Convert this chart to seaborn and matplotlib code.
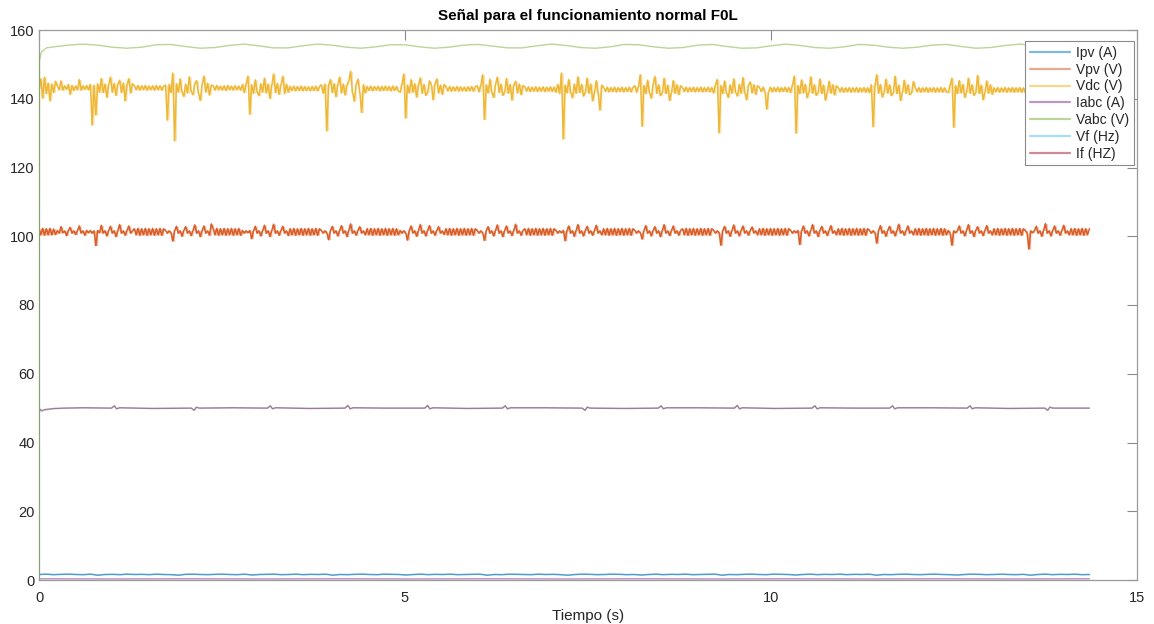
import numpy as np
import matplotlib
matplotlib.use("Agg")
import matplotlib.pyplot as plt
from matplotlib.lines import Line2D
import seaborn as sns

# ---------------------------------------------------------------- data
T_END = 14.35  # length of the recording (s)

series_names = ["Ipv (A)", "Vpv (V)", "Vdc (V)", "Iabc (A)", "Vabc (V)", "Vf (Hz)", "If (HZ)"]

# DC-link voltage, sampled every ~0.025 s (one row per operating stretch)
vdc = [
    143.0, 145.8, 140.2, 146.3, 141.5, 144.6, 139.4, 144.3, 141.8, 145.1,
    143.8, 142.6, 145.2, 142.5, 143.8, 142.7, 144.2, 141.3, 143.9, 142.4, 143.8, 142.6, 145.6, 142.5, 143.8, 142.7, 143.9, 142.6,
    144.2, 132.4, 144.0, 135.3, 144.4, 141.9, 145.9, 141.8, 144.3, 140.4, 144.2, 146.3, 141.9, 144.5, 141.0, 144.2, 145.4, 141.8, 144.6, 139.4, 144.1, 145.9, 141.7, 144.4,
    143.8, 142.6, 143.9, 142.5, 143.8, 142.6, 143.9, 142.5, 143.7, 142.6, 143.8, 142.5, 143.9, 142.6, 143.8, 142.5, 143.7,
    144.0, 133.8, 144.2, 141.8, 147.5, 127.8, 144.4, 141.9, 145.8, 142.0, 140.7, 144.3, 141.7, 146.4, 142.1, 141.2, 144.4, 145.3, 141.6, 139.5, 144.3, 146.6, 141.9, 144.5, 141.1, 144.0,
    143.8, 142.5, 143.9, 142.6, 143.7, 142.5, 143.8, 142.4, 143.9, 142.6, 143.7, 142.5, 143.8, 142.6, 143.7, 142.5,
    144.2, 141.8, 144.4, 146.6, 135.5, 144.1, 141.6, 145.5, 142.0, 140.9, 144.4, 141.9, 146.0, 141.7, 144.3, 140.1, 144.0, 147.2, 141.8, 144.5, 141.3, 144.1, 146.6, 141.6, 144.3, 141.9,
    143.6, 142.4, 143.7, 142.3, 143.6, 142.4, 143.7, 142.3, 143.6, 142.4, 143.5, 142.3, 143.6, 142.4, 143.7, 142.3, 143.6,
    144.1, 141.6, 144.3, 130.7, 144.0, 145.6, 141.8, 144.4, 140.6, 144.1, 146.3, 141.7, 144.3, 141.1, 144.0, 145.2, 148.0, 141.9, 139.3, 144.2, 145.7, 141.8, 136.0, 144.1, 141.7,
    143.6, 142.4, 143.7, 142.3, 143.6, 142.5, 143.7, 142.3, 143.6, 142.4, 143.7, 142.4, 143.6, 142.3, 143.7, 142.4, 143.6, 142.3,
    141.9, 144.3, 147.2, 134.4, 144.0, 141.7, 145.6, 141.9, 144.4, 140.5, 144.0, 146.1, 141.6, 144.2, 141.0, 141.9, 145.2, 144.1, 139.7, 144.3, 145.8, 141.7, 144.0, 141.3, 144.2,
    143.5, 142.3, 143.6, 142.2, 143.5, 142.3, 143.6, 142.2, 143.5, 142.3, 143.4, 142.2, 143.5, 142.3, 143.6, 142.2, 143.5,
    143.8, 142.0, 143.9, 147.0, 134.0, 144.1, 141.7, 145.7, 141.9, 140.4, 144.2, 146.3, 141.8, 144.3, 141.0, 141.9, 145.9, 141.6, 144.2, 139.6, 144.0, 145.1, 141.7, 144.3, 141.2, 143.9,
    143.4, 142.2, 143.5, 142.1, 143.4, 142.2, 143.5, 142.1, 143.4, 142.2, 143.5, 142.1, 143.4, 142.2, 143.5, 142.1, 143.4,
    141.9, 144.2, 141.6, 147.5, 128.3, 144.0, 141.7, 145.6, 141.9, 140.3, 144.3, 141.6, 146.4, 141.8, 144.2, 140.8, 141.9, 146.0, 141.6, 144.3, 139.4, 141.9, 145.3, 141.7, 136.7, 144.0,
    143.3, 142.1, 143.4, 142.0, 143.3, 142.1, 143.4, 142.0, 143.3, 142.1, 143.4, 142.0, 143.3, 142.1, 143.4, 142.0, 143.3,
    143.8, 141.9, 143.6, 147.0, 132.0, 143.9, 141.5, 145.4, 141.8, 140.2, 144.2, 146.5, 141.6, 144.1, 140.9, 141.8, 146.0, 141.5, 144.0, 139.5, 141.8, 145.3, 141.6, 144.1, 141.2, 143.8,
    143.3, 142.1, 143.4, 142.0, 143.3, 142.1, 143.4, 142.0, 143.3, 142.1, 143.4, 142.0, 143.3, 142.1, 143.4, 142.0, 143.3,
    141.7, 144.1, 145.6, 130.1, 143.9, 141.5, 145.2, 141.8, 140.4, 144.1, 141.6, 145.8, 141.9, 140.8, 144.2, 141.6, 146.2, 141.8, 139.7, 144.0, 144.9, 141.7, 144.1, 141.3, 143.8,
    143.3, 142.1, 143.4, 142.0, 137.0, 142.1, 143.4, 142.0, 143.3, 142.1, 143.4, 142.0, 143.3, 142.1, 143.4, 142.0, 143.3,
    141.8, 144.1, 146.6, 130.0, 143.9, 141.5, 145.5, 141.7, 144.2, 140.3, 141.9, 146.4, 141.6, 144.1, 141.0, 141.8, 145.8, 141.5, 144.0, 139.6, 141.9, 145.1, 141.6, 144.1, 141.1, 143.8,
    143.2, 142.0, 143.3, 141.9, 143.2, 142.0, 143.3, 141.9, 143.2, 142.0, 143.3, 141.9, 143.2, 142.0, 143.3, 141.9, 143.2,
    141.8, 144.1, 131.9, 143.9, 147.0, 141.6, 144.2, 140.5, 141.9, 145.7, 141.6, 144.1, 140.9, 141.8, 146.6, 141.5, 144.0, 139.5, 141.9, 145.4, 141.6, 144.1, 141.2, 141.8, 145.0,
    143.2, 142.0, 143.3, 141.9, 143.2, 142.0, 143.3, 141.9, 143.2, 142.0, 143.3, 141.9, 143.2, 142.0, 143.3, 141.9, 143.2, 142.0,
    141.8, 144.1, 146.0, 131.7, 143.9, 141.5, 145.3, 141.7, 144.2, 140.4, 141.9, 146.0, 141.6, 144.1, 141.0, 141.8, 146.8, 141.5, 144.0, 139.7, 141.9, 145.2, 141.6, 144.1, 141.3,
    143.2, 142.0, 143.3, 141.9, 143.2, 142.0, 143.3, 141.9, 143.2, 142.0, 143.3, 141.9, 143.2, 142.0, 143.3, 141.9, 143.2,
    141.8, 144.1, 146.5, 133.0, 143.9, 141.5, 145.4, 141.7, 144.2, 140.4, 141.9, 146.3, 141.6, 144.1, 141.0, 141.8, 145.7, 141.5, 144.0, 139.6, 141.9, 145.1, 141.6, 144.1, 141.2,
    143.2, 142.0, 143.3, 141.9, 143.2, 142.0, 143.3, 141.9, 143.2, 142.0, 143.2,
]

# PV voltage, sampled every ~0.025 s (one row per operating stretch)
vpv = [
    102.2, 100.4, 102.3, 100.3, 102.2, 100.4, 102.3, 100.4, 102.1, 100.5,
    101.7, 100.9, 102.8, 101.0, 101.6, 100.2, 101.7, 102.6, 100.9, 101.6, 100.5, 101.7, 103.0, 100.9, 101.6, 100.3, 101.7, 101.0,
    101.7, 100.9, 101.6, 97.3, 101.7, 101.0, 103.2, 100.9, 101.6, 100.1, 101.7, 102.9, 100.9, 101.6, 99.9, 101.7, 103.4, 100.9, 101.6, 100.3, 101.7, 103.0, 100.9, 101.6,
    102.2, 100.4, 102.3, 100.3, 102.2, 100.4, 102.3, 100.3, 102.2, 100.4, 102.3, 100.3, 102.2, 100.4, 102.3, 100.3, 102.2,
    101.7, 100.9, 101.6, 101.0, 98.6, 101.7, 102.9, 100.9, 101.6, 100.0, 101.7, 102.8, 100.9, 101.6, 100.2, 101.7, 103.3, 100.9, 101.6, 99.9, 101.7, 103.0, 100.9, 101.6, 100.3, 103.6,
    102.2, 100.4, 102.3, 100.3, 102.2, 100.4, 102.3, 100.3, 102.2, 100.4, 102.3, 100.3, 102.2, 100.4, 102.3, 100.3,
    101.7, 100.9, 101.6, 101.0, 101.7, 99.3, 101.6, 102.9, 100.9, 101.6, 100.1, 101.7, 103.2, 100.9, 101.6, 99.9, 101.7, 103.5, 100.9, 101.6, 100.3, 101.7, 102.9, 100.9, 101.6, 100.2,
    102.2, 100.4, 102.3, 100.3, 102.2, 100.4, 102.3, 100.3, 102.2, 100.4, 102.3, 100.3, 102.2, 100.4, 102.3, 100.3, 102.2,
    101.7, 100.9, 101.6, 101.0, 99.0, 101.7, 102.9, 100.9, 101.6, 100.1, 101.7, 103.1, 100.9, 101.6, 99.9, 101.7, 103.6, 100.9, 101.6, 100.3, 101.7, 102.8, 100.9, 101.6, 100.4,
    102.2, 100.4, 102.3, 100.3, 102.2, 100.4, 102.3, 100.3, 102.2, 100.4, 102.3, 100.3, 102.2, 100.4, 102.3, 100.3, 102.2, 100.4,
    101.7, 100.9, 101.6, 101.0, 98.9, 101.7, 103.0, 100.9, 101.6, 100.0, 101.7, 103.4, 100.9, 101.6, 100.1, 101.7, 103.1, 100.9, 101.6, 100.3, 101.7, 102.8, 100.9, 101.6, 100.5,
    102.2, 100.4, 102.3, 100.3, 102.2, 100.4, 102.3, 100.3, 102.2, 100.4, 102.3, 100.3, 102.2, 100.4, 102.3, 100.3, 102.2,
    101.7, 100.9, 101.6, 101.0, 98.8, 101.7, 102.8, 100.9, 101.6, 100.1, 101.7, 103.3, 100.9, 101.6, 99.9, 101.7, 103.0, 100.9, 101.6, 100.2, 101.7, 103.5, 100.9, 101.6, 100.3, 101.7,
    102.2, 100.4, 102.3, 100.3, 102.2, 100.4, 102.3, 100.3, 102.2, 100.4, 102.3, 100.3, 102.2, 100.4, 102.3, 100.3, 102.2,
    101.7, 100.9, 101.6, 101.0, 101.7, 98.7, 101.6, 103.0, 100.9, 101.6, 100.0, 101.7, 103.4, 100.9, 101.6, 100.1, 101.7, 102.9, 100.9, 101.6, 100.3, 101.7, 103.2, 100.9, 101.6, 100.4,
    102.2, 100.4, 102.3, 100.3, 102.2, 100.4, 102.3, 100.3, 102.2, 100.4, 102.3, 100.3, 102.2, 100.4, 102.3, 100.3, 102.2,
    101.7, 100.9, 101.6, 101.0, 99.2, 101.7, 103.1, 100.9, 101.6, 100.1, 101.7, 102.8, 100.9, 101.6, 99.9, 101.7, 103.4, 100.9, 101.6, 100.2, 101.7, 103.0, 100.9, 101.6, 100.3, 101.7,
    102.2, 100.4, 102.3, 100.3, 102.2, 100.4, 102.3, 100.3, 102.2, 100.4, 102.3, 100.3, 102.2, 100.4, 102.3, 100.3, 102.2,
    101.7, 100.9, 101.6, 101.0, 97.4, 101.7, 102.9, 100.9, 101.6, 100.0, 101.7, 103.3, 100.9, 101.6, 100.1, 101.7, 103.0, 100.9, 101.6, 100.3, 101.7, 102.7, 100.9, 101.6, 100.4,
    102.2, 100.4, 102.3, 100.3, 102.2, 100.4, 102.3, 100.3, 102.2, 100.4, 102.3, 100.3, 102.2, 100.4, 102.3, 100.3, 102.2,
    101.7, 100.9, 101.6, 101.0, 101.7, 97.6, 101.6, 103.0, 100.9, 101.6, 100.1, 101.7, 103.4, 100.9, 101.6, 99.9, 101.7, 102.9, 100.9, 101.6, 100.2, 101.7, 103.1, 100.9, 101.6, 100.4,
    102.2, 100.4, 102.3, 100.3, 102.2, 100.4, 102.3, 100.3, 102.2, 100.4, 102.3, 100.3, 102.2, 100.4, 102.3, 100.3, 102.2,
    101.7, 100.9, 101.6, 101.0, 98.0, 101.7, 103.1, 100.9, 101.6, 100.0, 101.7, 102.9, 100.9, 101.6, 100.1, 101.7, 103.5, 100.9, 101.6, 100.3, 101.7, 103.0, 100.9, 101.6, 100.4,
    102.2, 100.4, 102.3, 100.3, 102.2, 100.4, 102.3, 100.3, 102.2, 100.4, 102.3, 100.3, 102.2, 100.4, 102.3, 100.3, 102.2, 100.4,
    101.7, 100.9, 97.4, 101.6, 101.0, 101.7, 103.0, 100.9, 101.6, 100.1, 101.7, 103.4, 100.9, 101.6, 99.9, 101.7, 102.8, 100.9, 101.6, 100.2, 101.7, 103.1, 100.9, 101.6, 100.4,
    102.2, 100.4, 102.3, 100.3, 102.2, 100.4, 102.3, 100.3, 102.2, 100.4, 102.3, 100.3, 102.2, 100.4, 102.3, 100.3, 102.2,
    101.7, 100.9, 96.3, 101.6, 101.0, 101.7, 102.9, 100.9, 101.6, 100.0, 101.7, 103.7, 100.9, 101.6, 100.1, 101.7, 103.0, 100.9, 101.6, 100.3, 101.7, 103.2, 100.9, 101.6, 100.4,
    102.2, 100.4, 102.3, 100.3, 102.2, 100.4, 102.3, 100.3, 102.2, 100.4, 102.2,
]

# AC voltage: start-up transient, then samples every 0.2 s from 0.2 s
vabc_head_t = [0.0, 0.006, 0.03, 0.1]
vabc_head_v = [0.0, 151.0, 153.5, 154.8]
vabc = [
    155.1, 155.6, 155.9, 155.6, 155.0, 154.7, 155.0, 155.7, 155.8, 155.2,
    154.7, 154.9, 155.5, 155.9, 155.4, 154.8, 154.8, 155.4, 155.9, 155.6,
    155.0, 154.7, 155.1, 155.7, 155.7, 155.1, 154.7, 155.0, 155.6, 155.8,
    155.3, 154.8, 154.8, 155.4, 155.9, 155.5, 154.9, 154.7, 155.1, 155.8,
    155.7, 155.1, 154.7, 154.9, 155.6, 155.8, 155.2, 154.7, 154.8, 155.4,
    155.9, 155.5, 154.9, 154.7, 155.1, 155.8, 155.6, 155.0, 154.7, 155.0,
    155.6, 155.8, 155.2, 154.7, 154.9, 155.5, 155.9, 155.4, 154.8, 154.8,
    155.4,
]

# frequency signals (shared time stamps)
freq_t = [0.00, 0.03, 0.08, 0.20, 0.35, 0.60,
          0.99, 1.03, 1.06, 1.10, 1.55,
          2.08, 2.12, 2.15, 2.19, 2.65,
          3.12, 3.16, 3.19, 3.23, 3.70,
          4.18, 4.22, 4.25, 4.29, 4.75,
          5.27, 5.31, 5.34, 5.38, 5.85,
          6.33, 6.37, 6.40, 6.44, 6.90,
          7.42, 7.46, 7.49, 7.53, 8.00,
          8.46, 8.50, 8.53, 8.57, 9.00,
          9.50, 9.54, 9.57, 9.61, 10.05,
          10.56, 10.60, 10.63, 10.67, 11.15,
          11.62, 11.66, 11.69, 11.73, 12.20,
          12.68, 12.72, 12.75, 12.79, 13.25,
          13.74, 13.78, 13.81, 13.85, 14.35]
if_v = [50.0, 49.3, 49.6, 49.9, 50.0, 50.1,
        50.0, 50.7, 49.8, 50.1, 49.9,
        50.0, 49.4, 50.3, 50.0, 50.1,
        50.0, 50.7, 49.8, 50.1, 49.9,
        50.0, 50.8, 49.8, 50.1, 50.0,
        50.0, 50.8, 49.8, 50.1, 49.9,
        50.0, 50.7, 49.8, 50.1, 50.1,
        50.0, 49.4, 50.3, 50.0, 49.9,
        50.0, 50.7, 49.8, 50.1, 50.1,
        50.0, 50.8, 49.8, 50.1, 49.9,
        50.0, 50.7, 49.8, 50.1, 50.0,
        50.0, 50.7, 49.8, 50.1, 50.1,
        50.0, 50.7, 49.8, 50.1, 49.9,
        50.0, 49.4, 50.3, 50.0, 50.0]
vf_v = [50.0, 49.0, 49.4, 49.8, 50.0, 50.1,
        50.0, 50.6, 49.8, 50.1, 49.9,
        50.0, 49.3, 50.2, 50.0, 50.1,
        50.0, 50.6, 49.8, 50.1, 49.9,
        50.0, 50.7, 49.8, 50.1, 50.0,
        50.0, 50.7, 49.8, 50.1, 49.9,
        50.0, 50.6, 49.8, 50.1, 50.1,
        50.0, 49.3, 50.2, 50.0, 49.9,
        50.0, 50.6, 49.8, 50.1, 50.1,
        50.0, 50.7, 49.8, 50.1, 49.9,
        50.0, 50.6, 49.8, 50.1, 50.0,
        50.0, 50.6, 49.8, 50.1, 50.1,
        50.0, 50.6, 49.8, 50.1, 49.9,
        50.0, 49.3, 50.2, 50.0, 50.0]

# PV current, sampled every ~0.1 s
ipv = [
    1.6, 1.7, 1.55, 1.65, 1.7, 1.6, 1.55, 1.7, 1.4, 1.6, 1.65, 1.55,
    1.7, 1.6, 1.65, 1.55, 1.7, 1.6, 1.55, 1.4, 1.65, 1.7, 1.6, 1.55,
    1.65, 1.7, 1.6, 1.55, 1.7, 1.45, 1.6, 1.65, 1.7, 1.55, 1.6, 1.7,
    1.55, 1.65, 1.6, 1.7, 1.4, 1.6, 1.55, 1.65, 1.7, 1.6, 1.55, 1.7,
    1.65, 1.6, 1.45, 1.6, 1.7, 1.55, 1.65, 1.6, 1.7, 1.55, 1.6, 1.65,
    1.7, 1.4, 1.6, 1.55, 1.7, 1.65, 1.6, 1.55, 1.7, 1.6, 1.65, 1.55,
    1.4, 1.6, 1.7, 1.65, 1.55, 1.6, 1.7, 1.65, 1.55, 1.6, 1.45, 1.6,
    1.7, 1.55, 1.65, 1.6, 1.7, 1.55, 1.6, 1.65, 1.7, 1.4, 1.6, 1.55,
    1.65, 1.7, 1.6, 1.55, 1.7, 1.65, 1.6, 1.45, 1.6, 1.7, 1.55, 1.65,
    1.6, 1.7, 1.55, 1.65, 1.6, 1.7, 1.4, 1.6, 1.55, 1.65, 1.7, 1.6,
    1.55, 1.65, 1.7, 1.6, 1.55, 1.45, 1.6, 1.7, 1.65, 1.55, 1.6, 1.7,
    1.6, 1.55, 1.65, 1.4, 1.6, 1.7, 1.55, 1.65, 1.6, 1.7, 1.55, 1.6,
]

# AC current, one sample per second
iabc = [0.35, 0.3, 0.35, 0.3, 0.35, 0.3, 0.35, 0.3, 0.35, 0.3, 0.35, 0.3, 0.35, 0.3, 0.35]

# ---------------------------------------------------------------- style
palette = {
    "Ipv (A)": "#0072BD",
    "Vpv (V)": "#D95319",
    "Vdc (V)": "#EDB120",
    "Iabc (A)": "#7E2F8E",
    "Vabc (V)": "#77AC30",
    "Vf (Hz)": "#4DBEEE",
    "If (HZ)": "#A2142F",
}

sns.set_theme(style="white")
plt.rcParams["font.family"] = ["Liberation Sans", "DejaVu Sans"]

fig = plt.figure(figsize=(11.54, 6.24), dpi=100)
ax = fig.add_axes([39 / 1154, 1 - 580 / 624, (1137 - 39) / 1154, 550 / 624])


def sample_times(values):
    return np.linspace(0.0, T_END, len(values))


def trace(x, y, name, lw=0.9, alpha=0.5, zorder=2):
    sns.lineplot(x=np.asarray(x, float), y=np.asarray(y, float), ax=ax,
                 color=palette[name], lw=lw, alpha=alpha,
                 estimator=None, sort=False, legend=False, zorder=zorder)


def dense_trace(values, name, fill_alpha=0.35, line_alpha=0.85, lw=1.1):
    """Fast signal: a pale fill of each sample interval between its two end
    values (how a densely sampled trace renders), with the trace on top."""
    v = np.asarray(values, float)
    t = sample_times(v)
    lo = np.minimum(v[:-1], v[1:])
    hi = np.maximum(v[:-1], v[1:])
    ax.fill_between(t[:-1], lo, hi, step="post", color=palette[name],
                    alpha=fill_alpha, lw=0, zorder=2)
    trace(t, v, name, lw=lw, alpha=line_alpha)


trace(sample_times(ipv), ipv, "Ipv (A)", lw=1.1, alpha=0.7)
dense_trace(vpv, "Vpv (V)", fill_alpha=0.4, line_alpha=0.9)
dense_trace(vdc, "Vdc (V)", fill_alpha=0.35, line_alpha=0.85)
trace(sample_times(iabc), iabc, "Iabc (A)", lw=1.0, alpha=0.55)
vabc_t = np.concatenate([vabc_head_t, 0.2 + 0.2 * np.arange(len(vabc))])
vabc_v = np.concatenate([vabc_head_v, vabc])
trace(vabc_t, vabc_v, "Vabc (V)", lw=1.0, alpha=0.5, zorder=3)
trace(freq_t, vf_v, "Vf (Hz)", lw=1.0, alpha=0.5)
trace(freq_t, if_v, "If (HZ)", lw=1.0, alpha=0.5)

# ---------------------------------------------------------------- axes
ax.set_xlim(0, 15)
ax.set_ylim(0, 160)
ax.set_xticks([0, 5, 10, 15])
ax.set_yticks(np.arange(0, 161, 20))
ax.tick_params(axis="both", direction="in", length=7, width=0.8, color="#8a8a8a",
               labelcolor="#262626", labelsize=10.5, top=True, right=True)
ax.tick_params(axis="x", pad=8)
ax.tick_params(axis="y", pad=3)
for sp in ax.spines.values():
    sp.set_visible(True)
    sp.set_color("#9a9a9a")
    sp.set_linewidth(0.9)

ax.set_title("Señal para el funcionamiento normal F0L", fontsize=11,
             fontweight="bold", color="#000000", pad=7)
ax.set_xlabel("Tiempo (s)", fontsize=11, color="#262626", labelpad=3)
ax.set_ylabel("")

handles = [Line2D([], [], color=palette[n], lw=1.6, alpha=0.5) for n in series_names]
leg = ax.legend(handles, series_names, loc="upper right", bbox_to_anchor=(0.9973, 0.98),
                borderaxespad=0, fontsize=10, frameon=True, fancybox=False,
                framealpha=1, edgecolor="#8a8a8a", handlelength=2.9,
                handletextpad=0.4, labelspacing=0.2, borderpad=0.35)
leg.get_frame().set_linewidth(0.8)
for txt in leg.get_texts():
    txt.set_color("#262626")

fig.savefig("out.png", dpi=100, facecolor="white")
